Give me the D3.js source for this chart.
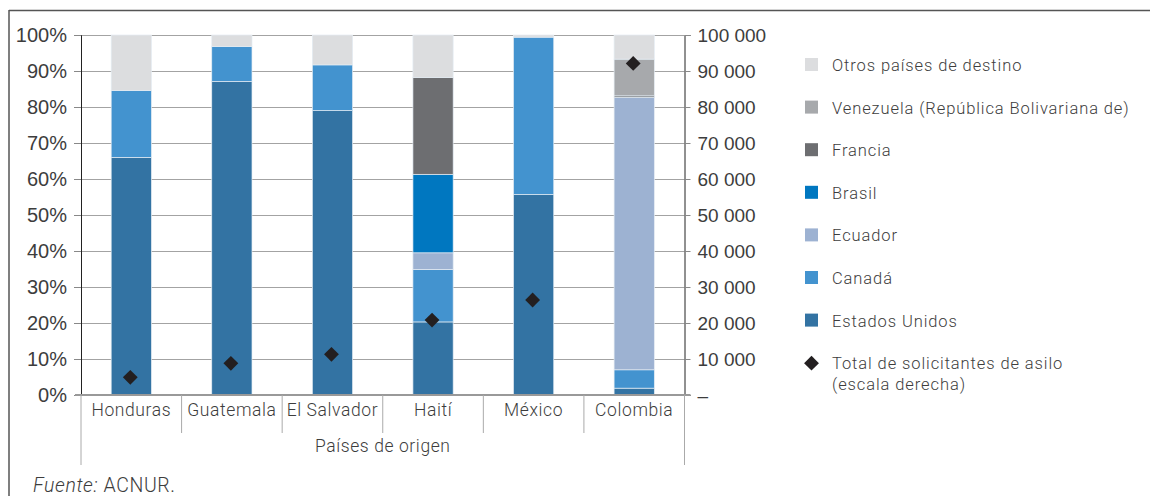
<!DOCTYPE html>
<html><head><meta charset="utf-8">
<script src="https://cdn.jsdelivr.net/npm/d3@7"></script>
<style>
html,body{margin:0;padding:0;background:#fff;}
svg{display:block;font-family:Roboto, "Noto Sans", sans-serif;}
</style></head>
<body><svg id="c" width="1150" height="496"></svg>
<script>
const categories = ["Honduras","Guatemala","El Salvador","Haití","México","Colombia"];
const estadosUnidos = [66.0, 87.1, 79.0, 20.3, 55.7, 1.9];
const canada       = [18.6,  9.7, 12.7, 14.6, 43.7, 5.1];
const ecuador      = [ 0,    0,    0,    4.6,  0,  75.7];
const brasil       = [ 0,    0,    0,   21.8,  0,   0  ];
const francia      = [ 0,    0,    0,   26.9,  0,   0.4];
const venezuela    = [ 0,    0,    0,    0,    0,  10.2];
const otros        = [15.4,  3.2,  8.3, 11.8,  0.6, 6.7];
const totalSolicitantes = [4900, 8800, 11300, 20800, 26400, 92100];
const leftTicks = [0,10,20,30,40,50,60,70,80,90,100];
const rightTicks = [0,10000,20000,30000,40000,50000,60000,70000,80000,90000,100000];

const seriesNames = ["Estados Unidos","Canadá","Ecuador","Brasil","Francia","Venezuela (República Bolivariana de)","Otros países de destino"];
const seriesData = [estadosUnidos, canada, ecuador, brasil, francia, venezuela, otros];
const colors = ["#3373a3","#4393cf","#9db2d2","#0077c0","#6d6e71","#a7a9ac","#dcdddf"];

const svg = d3.select("#c");
const X0 = 81, X1 = 684.5, Y0 = 395, Y1 = 35;
const x = d3.scaleBand().domain(categories).range([X0, X1]).paddingInner(0.6).paddingOuter(0.3);
const xb = d3.scaleBand().domain(categories).range([X0, X1]);
const y = d3.scaleLinear().domain([0,100]).range([Y0, Y1]);
const yR = d3.scaleLinear().domain([0,100000]).range([Y0, Y1]);
const textColor = "#3d3d3d";

// frame
svg.append("line").attr("x1",9).attr("x2",1150).attr("y1",10.5).attr("y2",10.5).attr("stroke","#555").attr("stroke-width",1.5);
svg.append("line").attr("x1",9).attr("x2",9).attr("y1",10).attr("y2",496).attr("stroke","#555").attr("stroke-width",1.5);

// gridlines
svg.append("g").selectAll("line").data(leftTicks.filter(d=>d>0)).join("line")
  .attr("x1",X0).attr("x2",X1).attr("y1",d=>Math.round(y(d))+0.5).attr("y2",d=>Math.round(y(d))+0.5)
  .attr("stroke","#a3a3a3").attr("stroke-width",1);

// stacked bars
const rows = categories.map((c,i)=>{const o={cat:c}; seriesNames.forEach((s,j)=>o[s]=seriesData[j][i]); return o;});
const stack = d3.stack().keys(seriesNames)(rows);
svg.append("g").selectAll("g").data(stack).join("g").attr("fill",(d,i)=>colors[i])
  .selectAll("rect").data(d=>d.filter(v=>v[1]-v[0]>0)).join("rect")
  .attr("x",d=>x(d.data.cat)).attr("width",x.bandwidth())
  .attr("y",d=>y(d[1])).attr("height",d=>y(d[0])-y(d[1]))
  .attr("stroke","#e4ecf3").attr("stroke-width",0.7);

// left axis
const gL = svg.append("g").attr("transform",`translate(${X0},0)`)
  .call(d3.axisLeft(y).tickValues(leftTicks).tickFormat(d=>d+"%").tickSize(7).tickPadding(7));
gL.select(".domain").attr("stroke","#222");
gL.selectAll(".tick line").attr("stroke","#888");
gL.selectAll("text").attr("font-size",20).attr("fill",textColor).attr("font-weight",300);

// right axis
const gR = svg.append("g").attr("transform",`translate(${X1},0)`)
  .call(d3.axisRight(yR).tickValues(rightTicks).tickFormat(d=>d===0?"–":d3.format(",")(d).replace(/,/g," ")).tickSize(6).tickPadding(7));
gR.select(".domain").attr("stroke","#222");
gR.selectAll(".tick line").attr("stroke","#888");
gR.selectAll("text").attr("font-size",19).attr("fill",textColor).attr("font-weight",300);

// baseline
svg.append("line").attr("x1",X0-6).attr("x2",X1+6).attr("y1",Y0).attr("y2",Y0).attr("stroke","#999").attr("stroke-width",2);

// category axis separators
const seps = categories.map(c=>xb(c)).concat([X1]);
svg.append("g").selectAll("line").data(seps).join("line")
  .attr("x1",d=>d).attr("x2",d=>d).attr("y1",Y0).attr("y2",(d,i)=>(i===0||i===seps.length-1)?465:433)
  .attr("stroke","#aaa").attr("stroke-width",1);
svg.append("g").selectAll("text").data(categories).join("text")
  .attr("x",d=>xb(d)+xb.bandwidth()/2).attr("y",416).attr("text-anchor","middle")
  .attr("font-size",17.5).attr("letter-spacing",0.6).attr("font-weight",300).attr("fill",textColor).text(d=>d);
svg.append("text").attr("x",(X0+X1)/2).attr("y",452).attr("text-anchor","middle")
  .attr("font-size",17.5).attr("letter-spacing",0.6).attr("font-weight",300).attr("fill",textColor).text("Países de origen");

// diamonds
const diamond = d3.symbol().type(d3.symbolSquare).size(110);
svg.append("g").selectAll("path").data(totalSolicitantes).join("path")
  .attr("d",diamond).attr("fill","#231f20")
  .attr("transform",(d,i)=>`translate(${x(categories[i])+x.bandwidth()/2-1},${yR(d)}) rotate(45)`);

// legend
const legendOrder = [6,5,4,3,2,1,0];
const lg = svg.append("g").attr("font-size",16.5).attr("letter-spacing",0.9).attr("font-weight",300).attr("fill",textColor);
legendOrder.forEach((si,k)=>{
  const yy = 65 + k*42.6;
  lg.append("rect").attr("x",805).attr("y",yy-7).attr("width",13).attr("height",13).attr("fill",colors[si]);
  lg.append("text").attr("x",832).attr("y",yy+6).text(seriesNames[si]);
});
const yy = 65 + 7*42.6;
lg.append("path").attr("d",diamond).attr("fill","#231f20").attr("transform",`translate(811.5,${yy}) rotate(45)`);
lg.append("text").attr("x",832).attr("y",yy+6).text("Total de solicitantes de asilo");
lg.append("text").attr("x",832).attr("y",yy+27).text("(escala derecha)");

// source
const src = svg.append("text").attr("x",33).attr("y",492).attr("font-size",19.5).attr("letter-spacing",0.6).attr("font-weight",300).attr("fill",textColor);
src.append("tspan").attr("font-style","italic").text("Fuente:");
src.append("tspan").text(" ACNUR.");
</script></body></html>
